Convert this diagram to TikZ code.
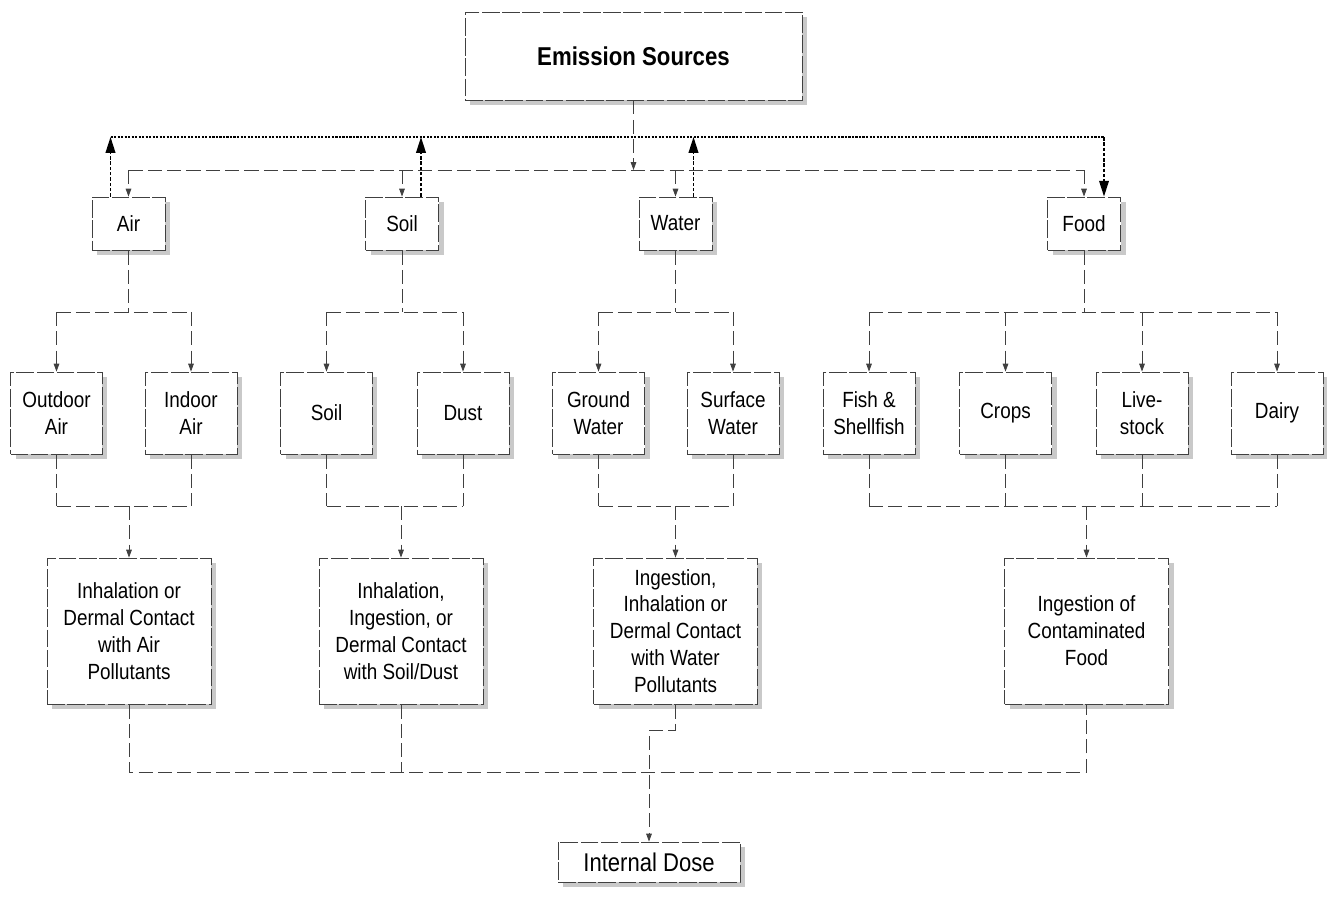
\documentclass[tikz,border=0pt]{standalone}
\usepackage{fontspec}
\setmainfont{Liberation Sans}[FakeStretch=0.86]
\usetikzlibrary{arrows.meta,shadows}

\tikzset{
  box/.style={draw=black!75, line width=0.5pt, dash pattern=on 10pt off 1.5pt, fill=white,
    align=center, inner sep=0pt, font=\fontsize{12.5}{15.3}\selectfont,
    drop shadow={shadow xshift=0.1cm, shadow yshift=-0.1cm, fill=black!30, opacity=0.7}},
  media/.style={box, minimum width=1.46cm, minimum height=1.06cm},
  sub/.style={box, minimum width=1.84cm, minimum height=1.64cm},
  route/.style={box, minimum width=3.28cm, minimum height=2.92cm},
  link/.style={draw=black!75, line width=0.45pt, dash pattern=on 8pt off 3pt},
  tip/.style={-{Triangle[length=4.5pt,width=3.2pt]}},
  cycle/.style={line width=0.9pt, dash pattern=on 2pt off 1pt, -{Triangle[length=9pt,width=5.5pt]}},
  ring/.style={line width=0.9pt, dash pattern=on 1.2pt off 0.8pt}
}

\begin{document}
\begin{tikzpicture}[x=0.02cm,y=-0.02cm]
  \useasboundingbox (0,0) rectangle (1327,897);
  \coordinate (fb) at (0,137);
  \coordinate (top) at (0,170);
  \coordinate (mid) at (0,312);
  \coordinate (low) at (0,506);
  \coordinate (base) at (0,772);

  \node[box, minimum width=6.74cm, minimum height=1.76cm, font=\fontsize{14.7}{17}\selectfont\bfseries] (emis) at (633.5,56) {Emission Sources};

  \foreach \name/\x/\txt in {air/128.5/Air, soil/402/Soil, water/675.5/Water, food/1084/Food}
    \node[media] (\name) at (\x,223.5) {\txt};

  \foreach \name/\x/\txt in {out/56.5/Outdoor\\Air, ind/191/Indoor\\Air, soilb/326.5/Soil, dust/463/Dust,
      gw/598.5/Ground\\Water, sw/733/Surface\\Water, fish/869/Fish \&\\Shellfish, crops/1005.5/Crops,
      live/1142/Live-\\stock, dairy/1277/Dairy}
    \node[sub] (\name) at (\x,413) {\txt};

  \node[route] (pair) at (129,631) {Inhalation or\\Dermal Contact\\with Air\\Pollutants};
  \node[route] (psoil) at (401,631) {Inhalation,\\Ingestion, or\\Dermal Contact\\with Soil/Dust};
  \node[route] (pwater) at (675.5,631) {Ingestion,\\Inhalation or\\Dermal Contact\\with Water\\Pollutants};
  \node[route] (pfood) at (1086.5,631) {Ingestion of\\Contaminated\\Food};

  \node[box, minimum width=3.64cm, minimum height=0.8cm, font=\fontsize{14.6}{17}\selectfont] (dose) at (649,862) {Internal Dose};

  \draw[link, tip] (emis.south) -- (emis.south |- top);
  \draw[link] (air.north |- top) -- (food.north |- top);
  \foreach \n in {air,soil,water,food}
    \draw[link, tip] (\n.north |- top) -- (\n.north);

  \coordinate (airup) at ([xshift=-0.36cm]air.north);
  \coordinate (soilup) at ([xshift=0.38cm]soil.north);
  \coordinate (waterup) at ([xshift=0.36cm]water.north);
  \coordinate (foodin) at ([xshift=0.4cm]food.north);
  \draw[ring] (airup |- fb) -- (foodin |- fb);
  \foreach \n in {airup,soilup,waterup}
    \draw[cycle] (\n) -- (\n |- fb);
  \draw[cycle] (foodin |- fb) -- (foodin);

  \foreach \m/\a/\b in {air/out/ind, soil/soilb/dust, water/gw/sw, food/fish/dairy} {
    \draw[link] (\m.south) -- (\m.south |- mid);
    \draw[link] (\a.north |- mid) -- (\b.north |- mid);
    \draw[link] (\a.south |- low) -- (\b.south |- low);
  }
  \foreach \n in {out,ind,soilb,dust,gw,sw,fish,crops,live,dairy} {
    \draw[link, tip] (\n.north |- mid) -- (\n.north);
    \draw[link] (\n.south) -- (\n.south |- low);
  }
  \foreach \p in {pair,psoil,pwater,pfood}
    \draw[link, tip] (\p.north |- low) -- (\p.north);

  \draw[link] (pair.south) -- (pair.south |- base) -- (pfood.south |- base) -- (pfood.south);
  \draw[link] (psoil.south) -- (psoil.south |- base);
  \draw[link, tip] (pwater.south) -- ++(0,26) -| (dose.north);
\end{tikzpicture}
\end{document}
